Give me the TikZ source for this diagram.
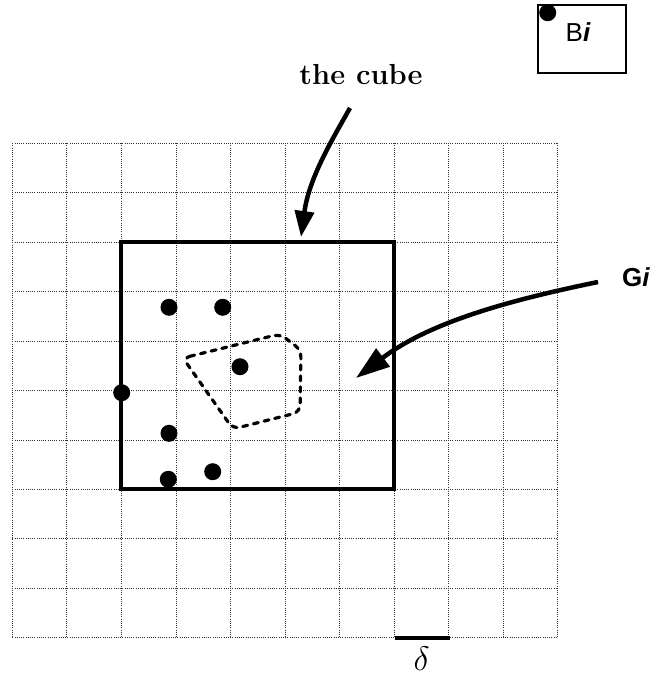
\RequirePackage{fix-cm}
\documentclass[tikz,border=0pt]{standalone}
\usepackage{fontspec}
\newfontfamily\lsans{Liberation Sans}
\usetikzlibrary{arrows.meta}
\tikzset{
  gridline/.style={black!80, line width=0.7pt, dash pattern=on 1pt off 1.2pt},
  cubeedge/.style={black, line width=4pt, line join=miter},
  pt/.style={circle, fill=black, inner sep=0pt, minimum size=17pt},
  bigarrow/.style={black, line width=4.5pt},
  gline/.style={black, line width=3.2pt, dash pattern=on 5pt off 6pt, line cap=round, rounded corners=7pt},
}
\begin{document}
\begin{tikzpicture}[x=1pt,y=-1pt]
\useasboundingbox (0,0) rectangle (654,679);
% grid
\foreach \i in {0,...,10}{
  \draw[gridline] ({12.3+54.54*\i},143.3) -- ({12.3+54.54*\i},637.7);
  \draw[gridline] (12.3,{143.3+49.44*\i}) -- (557.7,{143.3+49.44*\i});
}
% cube
\draw[cubeedge] (121.4,242.2) rectangle (394.1,489.4);
% points
\node[pt] (p1) at (169,307.3) {};
\node[pt] (p2) at (222.7,307.3) {};
\node[pt] (p3) at (240,366.7) {};
\node[pt] (p4) at (121.7,392.7) {};
\node[pt] (p5) at (169,433.3) {};
\node[pt] (p6) at (212.7,471.7) {};
\node[pt] (p7) at (168.3,479.3) {};
% G_i region
\draw[gline] (183,358) -- (280,334) -- (301,350) -- (300,412) -- (233,429) -- cycle;
% labels
\node[anchor=base, inner sep=0pt, font=\fontsize{29}{32}\selectfont\bfseries] (cubelabel) at (361,85) {the cube};
\node[anchor=base, inner sep=0pt, font=\lsans\fontsize{26}{28}\selectfont\bfseries] (glabel) at (636,286) {G\textit{i}};
% arrows
\coordinate (cubestart) at (350,108);
\coordinate (cubetip) at (301,237);
\draw[bigarrow, -{Triangle[length=26pt,width=19pt]}] (cubestart) .. controls (332,140) and (309,178) .. (cubetip);
\coordinate (gstart) at (598,282);
\coordinate (gtip) at (356,378);
\draw[bigarrow, -{Triangle[length=34pt,width=22pt]}] (gstart) .. controls (510,300) and (430,322) .. (gtip);
% B_i legend box
\draw[black, line width=1.5pt] (538,5) rectangle (626,73);
\node[pt] (bdot) at (547.7,12.7) {};
\node[anchor=base, inner sep=0pt, font=\lsans\fontsize{26}{28}\selectfont] (blabel) at (578,42) {B{\bfseries\itshape i}};
% delta scale
\coordinate (d1) at (395,637.7);
\coordinate (d2) at (450,637.7);
\draw[black, line width=4pt] (d1) -- (d2);
\node[anchor=base, inner sep=0pt, font=\fontsize{34}{38}\selectfont] (dlabel) at (421.7,670) {$\delta$};
\end{tikzpicture}
\end{document}
